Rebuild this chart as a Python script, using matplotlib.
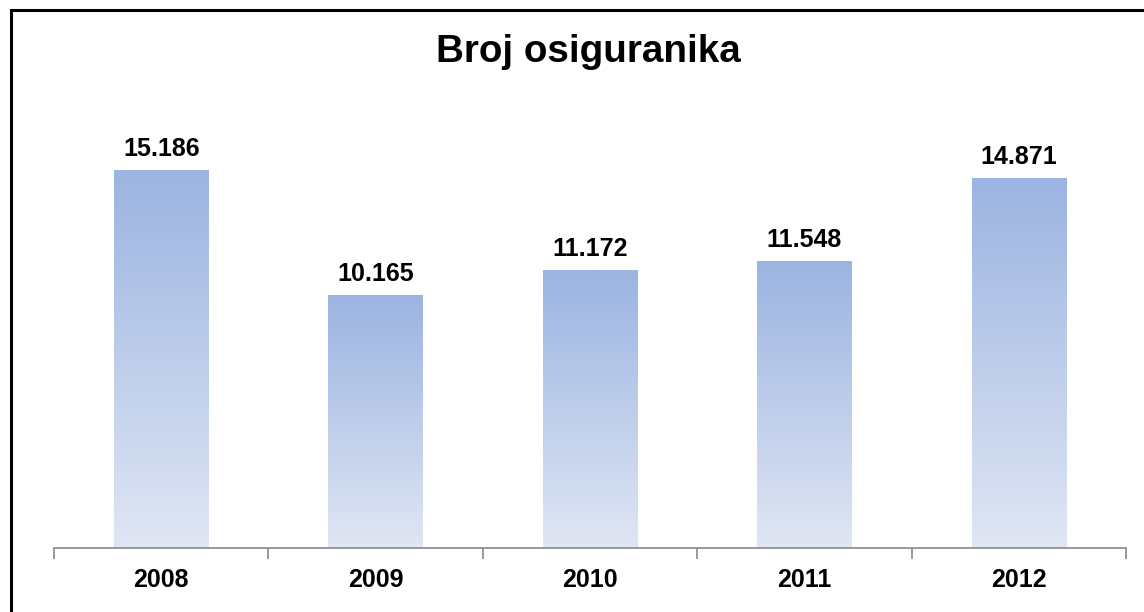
import matplotlib.pyplot as plt
import numpy as np
from matplotlib.colors import LinearSegmentedColormap
from matplotlib.patches import Rectangle

plt.rcParams['font.family'] = ['Liberation Sans', 'DejaVu Sans']

years = ['2008', '2009', '2010', '2011', '2012']
counts = [15186, 10165, 11172, 11548, 14871]
labels = ['15.186', '10.165', '11.172', '11.548', '14.871']

W, H = 1144, 612
fig = plt.figure(figsize=(W / 100, H / 100), dpi=100)
ax = fig.add_axes([54 / W, (H - 548) / H, (1126 - 54) / W, (548 - 101) / H])

# outer frame (right and bottom edges fall outside the image)
fig.patches.append(Rectangle((11 / W, -0.1), 1.2, (H - 10) / H + 0.1,
                             transform=fig.transFigure, fill=False,
                             edgecolor='black', linewidth=2.2, zorder=10))

x = np.arange(len(years))
width = 0.44
bars = ax.bar(x, counts, width=width, color='none', edgecolor='none')

cmap = LinearSegmentedColormap.from_list('grad', ['#e0e6f4', '#9bb4e1'])
grad = np.linspace(0, 1, 256).reshape(-1, 1)
for b in bars:
    x0, y0 = b.get_x(), b.get_y()
    ax.imshow(grad, cmap=cmap, origin='lower', aspect='auto',
              extent=(x0, x0 + b.get_width(), y0, y0 + b.get_height()),
              zorder=2)

for xi, v, lab in zip(x, counts, labels):
    ax.annotate(lab, (xi, v), xytext=(0, 7), textcoords='offset points',
                ha='center', va='bottom', fontsize=18, fontweight='bold')

ax.set_xlim(-0.5, len(years) - 0.5)
ax.set_ylim(0, 18000)
ax.set_yticks([])
ax.set_xticks(x)
ax.set_xticklabels(years, fontsize=18, fontweight='bold')
ax.set_xticks(np.arange(-0.5, len(years)), minor=True)
ax.tick_params(axis='x', which='major', length=0, pad=14.5)
ax.tick_params(axis='x', which='minor', length=8, color='#888888', width=1.2)
for s in ['top', 'left', 'right']:
    ax.spines[s].set_visible(False)
ax.spines['bottom'].set_color('#888888')
ax.spines['bottom'].set_linewidth(1.2)

fig.text(588 / W, (H - 52) / H, 'Broj osiguranika', ha='center', va='center',
         fontsize=27.8, fontweight='bold')

fig.savefig('out.png', dpi=100)
